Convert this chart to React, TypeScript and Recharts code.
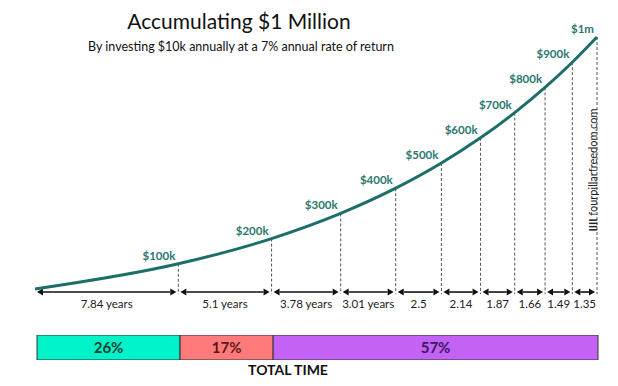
import React from "react"
import {
  ComposedChart,
  Line,
  XAxis,
  YAxis,
  ReferenceLine,
  LabelList,
  BarChart,
  Bar,
} from "recharts"

// amounts reached ($k) and their labels
const milestoneValues = [100, 200, 300, 400, 500, 600, 700, 800, 900, 1000]
const milestoneLabels = ["$100k", "$200k", "$300k", "$400k", "$500k", "$600k", "$700k", "$800k", "$900k", "$1m"]

// years needed for each extra $100k
const intervalYears = [7.84, 5.1, 3.78, 3.01, 2.5, 2.14, 1.87, 1.66, 1.49, 1.35]
const intervalLabels = ["7.84 years", "5.1 years", "3.78 years", "3.01 years", "2.5", "2.14", "1.87", "1.66", "1.49", "1.35"]

// share of total time
const shareLabels = ["26%", "17%", "57%"]
const shareColors = ["#00f2c9", "#ff7b7b", "#c462f5"]
const shareTextColors = ["#0f3d30", "#5c1818", "#3b1660"]

let acc = 0
const cumYears = intervalYears.map((y) => Math.round((acc += y) * 100) / 100)
const totalYears = cumYears[cumYears.length - 1]

const curveData = [
  { years: 0, value: 0, label: "" },
  ...cumYears.map((t, i) => ({ years: t, value: milestoneValues[i], label: milestoneLabels[i] })),
]

const shareData = [
  {
    name: "total",
    first: intervalYears[0],
    second: intervalYears[1],
    rest: intervalYears.slice(2).reduce((a, b) => a + b, 0),
  },
]

const FONT = "Lato, 'Open Sans', sans-serif"
const TEAL = "#1c6f67"
const ARROW_Y = -12
const DASH_BOTTOM = -20

const ValueLabel = (props: any) => {
  const { x, y, value } = props
  if (!value) return null
  return (
    <text x={x - 3} y={y - 4} textAnchor="end" fill="#2a776e" fontSize={11.5} fontWeight={700} fontFamily={FONT}>
      {value}
    </text>
  )
}

const Arrow = (props: any) => {
  const { x1, x2, y1, text } = props
  const a = x1 + 2
  const b = x2 - 2
  const h = 6
  return (
    <g>
      <line x1={a + h} y1={y1} x2={b - h} y2={y1} stroke="#111" strokeWidth={1.6} />
      <polygon points={`${a},${y1} ${a + h},${y1 - 3.5} ${a + h},${y1 + 3.5}`} fill="#111" />
      <polygon points={`${b},${y1} ${b - h},${y1 - 3.5} ${b - h},${y1 + 3.5}`} fill="#111" />
      <text x={(x1 + x2) / 2} y={y1 + 16} textAnchor="middle" fill="#222" fontSize={11.5} fontFamily={FONT}>
        {text}
      </text>
    </g>
  )
}

const shareLabel = (i: number) => (props: any) => {
  const { x, y, width, height } = props
  return (
    <text
      x={x + width / 2}
      y={y + height / 2 + 5.5}
      textAnchor="middle"
      fill={shareTextColors[i]}
      fontSize={15}
      fontWeight={700}
      fontFamily={FONT}
    >
      {shareLabels[i]}
    </text>
  )
}

export default function App() {
  return (
    <div style={{ position: "absolute", top: 0, left: 0, width: 618, height: 386, background: "#fff", fontFamily: FONT }}>
      <div style={{ position: "absolute", top: 8, left: 0, width: 478, textAlign: "center", fontSize: 21, color: "#111" }}>
        Accumulating $1 Million
      </div>
      <div style={{ position: "absolute", top: 39, left: 0, width: 482, textAlign: "center", fontSize: 12.5, color: "#111" }}>
        By investing $10k annually at a 7% annual rate of return
      </div>

      <div style={{ position: "absolute", top: 0, left: 0 }}>
        <ComposedChart width={618} height={330} data={curveData} margin={{ top: 37, right: 21, bottom: 41, left: 35 }}>
          <XAxis type="number" dataKey="years" domain={[0, totalYears]} hide />
          <YAxis type="number" domain={[0, 1000]} hide />
          {curveData.slice(1).map((d) => (
            <ReferenceLine
              key={`d-${d.years}`}
              segment={[
                { x: d.years, y: d.value },
                { x: d.years, y: DASH_BOTTOM },
              ]}
              stroke="#555"
              strokeDasharray="3 2"
              strokeWidth={1}
              ifOverflow="visible"
            />
          ))}
          {cumYears.map((t, i) => (
            <ReferenceLine
              key={`a-${i}`}
              segment={[
                { x: i === 0 ? 0 : cumYears[i - 1], y: ARROW_Y },
                { x: t, y: ARROW_Y },
              ]}
              ifOverflow="visible"
              shape={(p: any) => <Arrow {...p} text={intervalLabels[i]} />}
            />
          ))}
          <Line
            type="monotone"
            dataKey="value"
            stroke={TEAL}
            strokeWidth={3}
            dot={false}
            isAnimationActive={false}
          >
            <LabelList dataKey="label" content={ValueLabel} />
          </Line>
        </ComposedChart>
      </div>

      <div
        style={{
          position: "absolute",
          left: 592,
          top: 170,
          transform: "translate(-50%, -50%) rotate(-90deg)",
          whiteSpace: "nowrap",
          fontSize: 11,
          color: "#222",
        }}
      >
        <b>IIII</b> fourpillarfreedom.com
      </div>

      <div style={{ position: "absolute", top: 335, left: 0 }}>
        <BarChart
          width={618}
          height={25}
          data={shareData}
          layout="vertical"
          barCategoryGap={0}
          margin={{ top: 0, right: 20, bottom: 0, left: 37 }}
        >
          <XAxis type="number" domain={[0, totalYears]} hide />
          <YAxis type="category" dataKey="name" hide />
          {["first", "second", "rest"].map((k, i) => (
            <Bar
              key={k}
              dataKey={k}
              stackId="t"
              fill={shareColors[i]}
              stroke="#333"
              strokeWidth={1}
              isAnimationActive={false}
            >
              <LabelList dataKey={k} content={shareLabel(i)} />
            </Bar>
          ))}
        </BarChart>
      </div>

      <div style={{ position: "absolute", top: 361, left: 238, width: 100, textAlign: "center", fontSize: 14, fontWeight: 700, color: "#111", whiteSpace: "nowrap" }}>
        TOTAL TIME
      </div>
    </div>
  )
}
